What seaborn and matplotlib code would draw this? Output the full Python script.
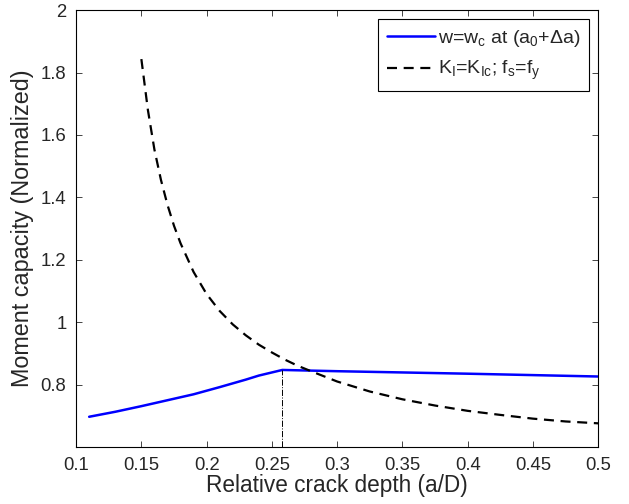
import numpy as np
import pandas as pd
import matplotlib
matplotlib.use('Agg')
import matplotlib.pyplot as plt
import seaborn as sns

# veri
crack_blue = [0.11, 0.13, 0.15, 0.17, 0.19, 0.21, 0.23, 0.24, 0.258, 0.30, 0.40, 0.50]
moment_blue = [0.697, 0.713, 0.731, 0.750, 0.769, 0.792, 0.816, 0.829, 0.847,
               0.843, 0.835, 0.826]

crack_black = [0.15, 0.155, 0.16, 0.165, 0.17, 0.175, 0.18, 0.19, 0.20, 0.21,
               0.22, 0.23, 0.24, 0.25, 0.26, 0.27, 0.28, 0.30, 0.325, 0.35,
               0.375, 0.40, 0.425, 0.45, 0.475, 0.50]
moment_black = [1.843, 1.680, 1.553, 1.456, 1.376, 1.309, 1.253, 1.161, 1.090, 1.036,
                0.993, 0.958, 0.928, 0.903, 0.880, 0.860, 0.843, 0.810, 0.778, 0.753,
                0.733, 0.716, 0.703, 0.691, 0.682, 0.676]

crit_x = [0.258, 0.258]
crit_y = [0.6, 0.847]

x_ticks = [0.1, 0.15, 0.2, 0.25, 0.3, 0.35, 0.4, 0.45, 0.5]
x_ticklabels = ["0.1", "0.15", "0.2", "0.25", "0.3", "0.35", "0.4", "0.45", "0.5"]
y_ticks = [0.6, 0.8, 1.0, 1.2, 1.4, 1.6, 1.8, 2.0]
y_ticklabels = ["", "0.8", "1", "1.2", "1.4", "1.6", "1.8", "2"]

label_blue = r"w=w$_\mathregular{c}$ at (a$_\mathregular{0}$+$\mathregular{\Delta}$a)"
label_black = r"K$_\mathregular{I}$=K$_\mathregular{Ic}$; f$_\mathregular{s}$=f$_\mathregular{y}$"

sns.set_style("ticks")
plt.rcParams['font.family'] = ['Liberation Sans', 'DejaVu Sans']
plt.rcParams['mathtext.fontset'] = 'custom'
plt.rcParams['mathtext.rm'] = 'Liberation Sans'
plt.rcParams['mathtext.it'] = 'Liberation Sans:italic'
plt.rcParams['mathtext.bf'] = 'Liberation Sans:bold'
plt.rcParams['xtick.direction'] = 'in'
plt.rcParams['ytick.direction'] = 'in'

fig = plt.figure(figsize=(6.29, 5.04), dpi=100)
ax = fig.add_axes([0.121, 0.113, 0.830, 0.867])

df_blue = pd.DataFrame({"x": crack_blue, "y": moment_blue})
df_black = pd.DataFrame({"x": crack_black, "y": moment_black})

sns.lineplot(data=df_blue, x="x", y="y", ax=ax, color="#0000ff", lw=1.8,
             label=label_blue, sort=False)
sns.lineplot(data=df_black, x="x", y="y", ax=ax, color="black", lw=1.6,
             label=label_black, sort=False)
ax.lines[1].set_dashes((4.5, 3))
ax.plot(crit_x, crit_y, color="black", lw=0.7, ls="-.")

ax.set_xlim(0.1, 0.5)
ax.set_ylim(0.6, 2.0)
ax.set_xticks(x_ticks)
ax.set_xticklabels(x_ticklabels)
ax.set_yticks(y_ticks)
ax.set_yticklabels(y_ticklabels)
ax.tick_params(labelsize=13.3, length=4, width=0.6, top=True, right=True, pad=7)
for s in ax.spines.values():
    s.set_visible(True)
    s.set_linewidth(0.8)
    s.set_color("black")

ax.set_xlabel("Relative crack depth (a/D)", fontsize=16.3, labelpad=0)
ax.set_ylabel("Moment capacity (Normalized)", fontsize=16.8, labelpad=5)

leg = ax.legend(loc="upper right", fontsize=14, frameon=True, fancybox=False,
                edgecolor="black", framealpha=1, borderaxespad=0.45,
                handlelength=2.5, handletextpad=0.15, labelspacing=0.55,
                borderpad=0.45)
leg.get_frame().set_linewidth(0.8)

plt.savefig("out.png", dpi=100)
plt.close()
